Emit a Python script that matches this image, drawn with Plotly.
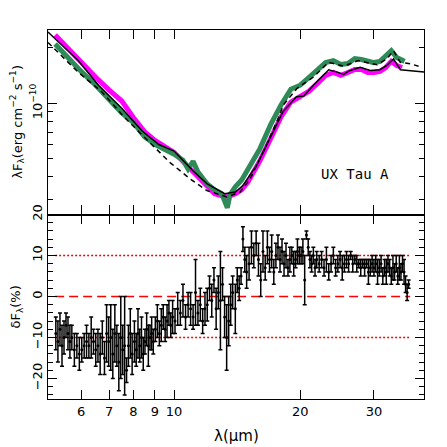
import plotly.graph_objects as go

# --- upper panel: spectra and models (flux in units of 1e-11 erg cm^-2 s^-1) ---
irs1_wave = [5.2, 5.5, 6.0, 6.5, 7.0, 7.5, 8.0, 8.5, 9.0, 9.5,
             10, 11, 12, 12.5, 13, 13.5, 14, 14.5, 15,
             16, 17, 18, 19, 20,
             21, 22, 23, 24, 25, 26, 27, 28, 29, 30, 31, 32, 33, 34, 35]
irs1_flux = [23.5, 20.5, 16.9, 13.85, 11.8, 10.3, 8.36, 7.03, 6.30, 5.85,
             5.43, 4.35, 3.57, 3.24, 3.16, 3.13, 3.24, 3.40, 3.75,
             4.86, 6.45, 8.46, 10.18, 10.82,
             11.65, 12.85, 14.19, 14.72, 14.19, 14.72, 15.28, 15.28, 14.72, 14.72, 14.92, 15.66, 16.9, 16.05, 15.66]

irs2_wave = [5.2, 5.5, 6.0, 6.5, 7.0, 7.5, 8.0, 8.5, 9.0, 9.5,
             10, 10.5, 10.8, 11.1, 11.4,
             12, 12.5, 13, 13.4, 13.6,
             14, 14.5, 15,
             16, 17, 18, 19, 20,
             21, 22, 23, 24, 25, 26, 27, 28, 29, 30, 31, 32, 33, 34, 35, 35.5]
irs2_flux = [21.0, 18.2, 14.92, 12.55, 10.43, 8.89, 7.86, 6.61, 5.99, 5.64,
             5.30, 4.92, 4.41, 4.86, 4.25,
             3.66, 3.40, 3.24, 2.72, 3.20,
             3.53, 3.85, 4.41,
             5.64, 7.67, 9.81, 11.94, 12.55,
             13.85, 15.09, 16.65, 17.07, 16.25, 16.45, 17.5, 17.3, 16.9, 16.65, 16.9, 17.93, 19.31, 17.71, 17.3, 16.9]

model1_wave = [5.0, 5.9, 6.6, 7.5, 8.4, 9.2, 10.0, 11.1, 12.0, 13.2,
               14.0, 14.6, 15.8, 17.0, 18.2, 19.6, 20.4, 21.5, 23.4, 24.5,
               25.4, 26.1, 27.8, 29.4, 31.0, 32.2, 33.4, 34.7, 36.0, 39.5]
model1_flux = [24.4, 17.1, 12.55, 9.42, 7.06, 5.99, 5.52, 4.31, 3.66, 3.24,
               3.31, 3.59, 4.69, 6.55, 9.03, 10.86, 10.96, 12.55, 15.22, 14.78,
               14.37, 14.96, 15.72, 15.09, 15.22, 16.05, 17.43, 15.22, 15.09, 14.78]

model2_wave = [5.0, 5.9, 6.72, 7.64, 8.84, 9.78, 10.92, 11.97, 13.36, 14.38,
               15.19, 16.5, 17.75, 18.24, 19.64, 21.51, 23.37, 25.38, 27.56, 30.5,
               32.22, 33.41, 34.67, 36.63, 38.34]
model2_flux = [21.4, 14.78, 11.55, 8.33, 5.99, 4.78, 3.90, 3.37, 3.11, 3.31,
               3.90, 5.75, 8.36, 9.81, 12.05, 13.90, 16.71, 15.91, 17.07, 16.19,
               17.43, 19.31, 16.71, 16.39, 15.91]

# --- lower panel: residuals (%) ---
resid_wave = [5.22, 5.28, 5.34, 5.40, 5.46, 5.52, 5.58, 5.64, 5.70, 5.78, 5.86, 5.94,
              6.02, 6.10, 6.18, 6.26, 6.34, 6.42, 6.50, 6.58, 6.66, 6.74, 6.82, 6.90, 6.98,
              7.06, 7.14, 7.22, 7.30, 7.38, 7.46, 7.54, 7.62, 7.70, 7.78, 7.86, 7.94,
              8.04, 8.12, 8.20, 8.28, 8.36, 8.44, 8.52, 8.60, 8.68, 8.76, 8.84, 8.92,
              9.02, 9.12, 9.22, 9.32, 9.42, 9.52, 9.62, 9.72, 9.82, 9.92,
              10.05, 10.2, 10.35, 10.5, 10.65, 10.8, 10.95, 11.1, 11.25, 11.4, 11.55, 11.7, 11.85,
              12.0, 12.15, 12.3, 12.45, 12.6, 12.75, 12.9, 13.05, 13.2, 13.35, 13.5, 13.65, 13.8,
              14.0, 14.15, 14.3, 14.45, 14.6, 14.75, 14.9,
              15.1, 15.3, 15.5, 15.7, 15.9, 16.1, 16.3, 16.5, 16.7, 16.9, 17.1, 17.3, 17.5,
              17.7, 17.9, 18.1, 18.3, 18.5, 18.7, 18.9, 19.1, 19.3, 19.5, 19.7, 19.9,
              20.1, 20.3, 20.5, 20.7, 20.9, 21.1, 21.3, 21.5, 21.7, 21.9,
              22.2, 22.5, 22.8, 23.1, 23.4, 23.7, 24.0, 24.3, 24.6, 24.9, 25.2, 25.5, 25.8,
              26.1, 26.4, 26.7, 27.0, 27.3, 27.6, 27.9, 28.2, 28.5, 28.8, 29.1, 29.4, 29.7,
              30.0, 30.3, 30.6, 30.9, 31.2, 31.5, 31.8, 32.1, 32.4, 32.7, 33.0,
              33.3, 33.6, 33.9, 34.2, 34.5, 34.8, 35.1, 35.4, 35.7, 36.0, 36.3]
resid_pct = [-9, -11, -8, -12, -10, -7, -9, -11, -10, -13, -12, -14,
             -13, -12, -11, -12, -10, -11, -13, -12, -14, -10, -15, -9, -11,
             -10, -14, -9, -12, -16, -10, -13, -12, -18, -12, -9, -14,
             -11, -13, -9, -12, -10, -14, -11, -8, -12, -10, -9, -11,
             -8, -6, -9, -7, -5, -8, -6, -4, -7, -5,
             -6, -3, -4, -1, -5, -2, -3, -5, 1, -4, -2, -6, -3,
             -2, 2, -1, 4, -3, 1, -1, 3, -5, -10, -6, -2, 1,
             -3, 4, 2, 5, 14, 9, 6,
             8, 12, 10, 13, 9, 4, 11, 7, 12, 9, 11, 6, 10,
             12, 9, 11, 8, 10, 7, 9, 10, 8, 9, 11, 10,
             10, 11, 4, 15, 12, 9, 8, 10, 7, 9,
             8, 9, 7, 9, 6, 8, 10, 7, 8, 9, 7, 8, 9,
             8, 10, 8, 9, 8, 8, 7, 8, 7, 8, 6, 7, 8,
             7, 8, 6, 7, 8, 5, 7, 6, 8, 7, 5,
             7, 6, 8, 5, 7, 6, 8, 6, 3, 1, 3]
resid_err = [4, 5, 4, 5, 4, 3, 4, 4, 3, 4, 3, 4,
             3, 3, 4, 3, 5, 3, 4, 4, 5, 4, 4, 7, 6,
             8, 6, 7, 5, 7, 10, 6, 12, 3, 5, 6, 5,
             5, 4, 6, 4, 5, 4, 3, 4, 5, 3, 4, 3,
             3, 4, 3, 4, 3, 3, 4, 3, 3, 4,
             3, 4, 3, 4, 3, 3, 4, 3, 8, 3, 4, 3, 4,
             4, 3, 4, 3, 5, 4, 12, 4, 5, 8, 6, 5, 4,
             6, 3, 3, 2, 3, 3, 4,
             4, 4, 3, 3, 4, 4, 5, 3, 4, 3, 4, 3, 3,
             3, 3, 3, 3, 3, 2, 3, 2, 3, 2, 3, 2,
             2, 3, 6, 1, 2, 2, 2, 2, 2, 2,
             2, 2, 2, 3, 2, 2, 2, 2, 2, 2, 3, 2, 2,
             2, 1, 2, 1, 2, 1, 2, 1, 2, 1, 3, 2, 2,
             2, 2, 3, 2, 2, 2, 2, 3, 2, 2, 2,
             3, 2, 2, 2, 3, 2, 2, 3, 2, 2, 1]

ref_wave = [5.2, 36.6]
x_tickvals = [6, 7, 8, 9, 10, 20, 30]
flux_minor = [3e-11, 4e-11, 5e-11, 6e-11, 7e-11, 8e-11, 9e-11, 2e-10]

FONT = "DejaVu Sans"
scale = 1e-11

fig = go.Figure()

fig.add_trace(go.Scatter(x=irs1_wave, y=[v * scale for v in irs1_flux], mode='lines',
                         line=dict(color='#ff00ff', width=5), xaxis='x', yaxis='y'))
fig.add_trace(go.Scatter(x=irs2_wave, y=[v * scale for v in irs2_flux], mode='lines',
                         line=dict(color='#2e8b57', width=5), xaxis='x', yaxis='y'))
fig.add_trace(go.Scatter(x=model1_wave, y=[v * scale for v in model1_flux], mode='lines',
                         line=dict(color='black', width=1.5), xaxis='x', yaxis='y'))
fig.add_trace(go.Scatter(x=model2_wave, y=[v * scale for v in model2_flux], mode='lines',
                         line=dict(color='black', width=1.5, dash='5px,4px'), xaxis='x', yaxis='y'))

# reference lines in residual panel
fig.add_trace(go.Scatter(x=ref_wave, y=[0, 0], mode='lines',
                         line=dict(color='#ff0000', width=1.6, dash='9px,5px'), xaxis='x2', yaxis='y2'))
for lvl in (10, -10):
    fig.add_trace(go.Scatter(x=ref_wave, y=[lvl, lvl], mode='lines',
                             line=dict(color='#ff0000', width=1.5, dash='2px,2px'), xaxis='x2', yaxis='y2'))

fig.add_trace(go.Scatter(x=resid_wave, y=resid_pct, mode='markers',
                         marker=dict(color='black', size=3),
                         error_y=dict(type='data', array=resid_err, color='black', thickness=1.5, width=2),
                         xaxis='x2', yaxis='y2'))

xrange_log = [0.69897, 1.5966]
common_axis = dict(showline=True, linecolor='black', linewidth=1.3, mirror='allticks',
                   ticks='inside', tickcolor='black', tickwidth=1.2, ticklen=9,
                   showgrid=False, zeroline=False,
                   tickfont=dict(family=FONT, size=13, color='black'))

# page body has an 8px offset, so margins are shifted to keep the plot area in place
fig.update_layout(
    width=447, height=447,
    margin=dict(l=40, r=31, t=16, b=56),
    paper_bgcolor='white', plot_bgcolor='white',
    showlegend=False,
    xaxis=dict(type='log', range=xrange_log, domain=[0, 1], anchor='y',
               tickvals=x_tickvals, showticklabels=False, **common_axis),
    yaxis=dict(type='log', range=[-10.60206, -9.60206], domain=[0.5, 1], anchor='x',
               tickvals=[1e-10], ticktext=['10<sup>\u221210</sup>'], tickangle=-90,
               minor=dict(ticks='inside', ticklen=5, tickcolor='black', tickwidth=1.2,
                          tickmode='array', tickvals=flux_minor),
               **common_axis),
    xaxis2=dict(type='log', range=xrange_log, domain=[0, 1], anchor='y2',
                tickvals=x_tickvals, ticktext=[str(v) for v in x_tickvals], **common_axis),
    yaxis2=dict(range=[-25, 20], domain=[0, 0.5], anchor='x2',
                tickvals=[-20, -10, 0, 10, 20], tickangle=-90,
                minor=dict(ticks='inside', ticklen=5, tickcolor='black', tickwidth=1.2, dtick=2),
                **common_axis),
)

fig.add_annotation(text="UX Tau A", xref='paper', yref='paper', x=0.816, y=0.609,
                   xanchor='center', yanchor='middle',
                   showarrow=False, font=dict(family="DejaVu Sans Mono", size=14, color='black'))
fig.add_annotation(text="\u03bbF<sub>\u03bb</sub>(erg cm<sup>\u22122</sup> s<sup>\u22121</sup>)",
                   xref='paper', yref='paper', x=-0.081, y=0.75, textangle=-90,
                   showarrow=False, xanchor='center', yanchor='middle',
                   font=dict(family=FONT, size=13, color='black'))
fig.add_annotation(text="\u03b4F<sub>\u03bb</sub>(%)",
                   xref='paper', yref='paper', x=-0.083, y=0.25, textangle=-90,
                   showarrow=False, xanchor='center', yanchor='middle',
                   font=dict(family=FONT, size=13, color='black'))
fig.add_annotation(text="\u03bb(\u03bcm)", xref='paper', yref='paper', x=0.5, y=-0.1,
                   showarrow=False, xanchor='center', yanchor='middle',
                   font=dict(family=FONT, size=15, color='black'))

fig.write_html("out.html")
